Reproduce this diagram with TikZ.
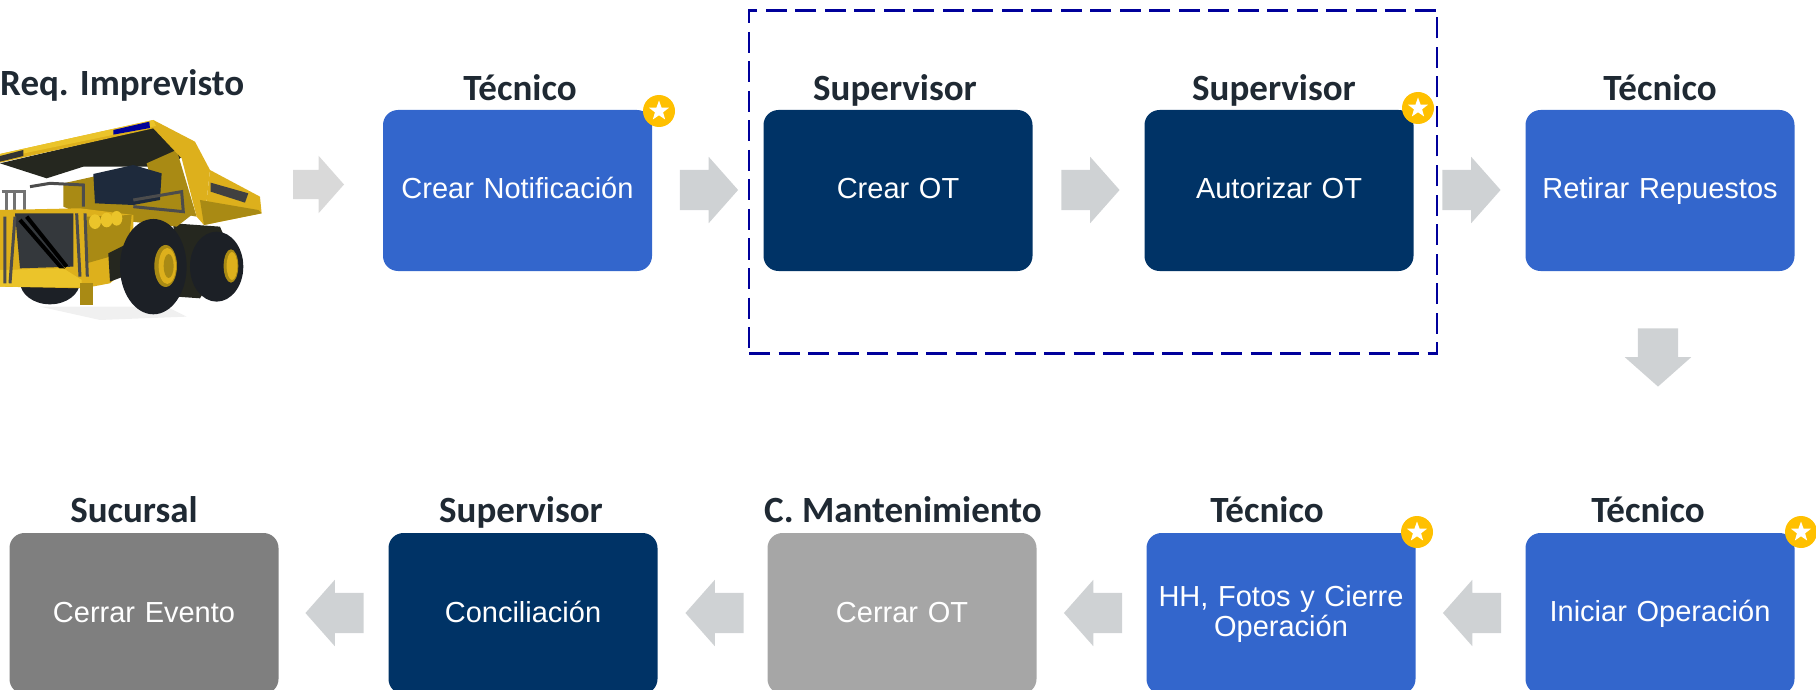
\documentclass[tikz,border=0pt]{standalone}
\usepackage{fontspec}
\setmainfont{Liberation Sans}
\newfontfamily\headfont{Carlito}[BoldFont={Carlito Bold}]
\usetikzlibrary{shapes.geometric,shapes.arrows}
\definecolor{bluebox}{HTML}{3366CC}
\definecolor{navybox}{HTML}{003366}
\definecolor{lightgrey}{HTML}{A6A6A6}
\definecolor{darkgrey}{HTML}{7F7F7F}
\definecolor{arrowgrey}{HTML}{CFD2D4}
\definecolor{headink}{HTML}{1F2933}
\definecolor{dashblue}{HTML}{00009B}
\definecolor{starbg}{HTML}{FFC000}
\definecolor{tyellow}{HTML}{DDB01C}
\definecolor{tyellowd}{HTML}{A98A14}
\definecolor{tyellowl}{HTML}{EBC42A}
\definecolor{tblack}{HTML}{1C2026}
\definecolor{tdark}{HTML}{25271F}
\definecolor{tcab}{HTML}{1E2A3C}
\definecolor{tgrille}{HTML}{34383C}
\tikzset{
  x=1pt,y=-1pt,
  procbox/.style={rounded corners=15pt,minimum width=269pt,minimum height=161pt,inner sep=4pt,text=white,align=center,
    font=\fontsize{29}{30}\selectfont,text width=261pt,
    execute at begin node={\rule{0pt}{22pt}},execute at end node={\rule[-5pt]{0pt}{5pt}}},
  head/.style={font=\headfont\bfseries\fontsize{37}{40}\selectfont,text=headink,inner sep=0pt,anchor=base},
  barrow/.style={single arrow,fill=arrowgrey,draw=none,inner sep=20pt,minimum height=58pt,
    single arrow head extend=13pt,single arrow tip angle=97,outer sep=0pt},
  smallarrow/.style={barrow,fill=black!15,inner sep=14.5pt,single arrow head extend=14pt,minimum height=51pt},
  badge/.style={circle,fill=starbg,minimum size=32pt,inner sep=0pt},
  whitestar/.style={star,star points=5,star point ratio=2.45,fill=white,minimum size=21pt,inner sep=0pt},
  frame/.style={draw=dashblue,line width=2.6pt,dash pattern=on 21pt off 8.5pt},
}
\begin{document}
\begin{tikzpicture}
\useasboundingbox (0,0) rectangle (1816,690);
\clip (0,0) rectangle (1816,690);
% truck
\begin{scope}[x=0.3333pt,y=-0.3333pt,shift={(0pt,-50pt)}]
  \fill[black!6] (120,770) -- (500,770) -- (560,800) -- (300,810) -- cycle;
  % rear wheels
  \fill[tblack] (150,695) ellipse [x radius=90,y radius=68];
  \fill[tdark] (520,520) -- (660,530) -- (690,600) -- (600,745) -- (530,740) -- cycle;
  \fill[tblack] (650,650) ellipse [x radius=80,y radius=105];
  \fill[tyellowd] (693,648) ellipse [x radius=22,y radius=50];
  \fill[tyellow] (696,648) ellipse [x radius=16,y radius=42];
  % dump body: underside canopy first
  \fill[tdark] (0,340) -- (460,232) -- (555,310) -- (520,345) -- (470,350) -- (250,350) -- (140,385) -- cycle;
  \fill[tyellowd] (440,340) -- (530,300) -- (590,500) -- (480,480) -- cycle;
  \fill[tyellow] (0,312) -- (460,210) -- (585,275) -- (630,360) -- (612,525) -- (590,500) -- (545,325) -- (460,235) -- (0,338) -- cycle;
  \fill[tyellowl] (0,312) -- (460,210) -- (468,228) -- (0,325) -- cycle;
  \fill[tyellow] (630,360) -- (780,440) -- (785,490) -- (612,525) -- cycle;
  \fill[tyellowd] (600,450) -- (775,480) -- (785,490) -- (612,525) -- cycle;
  \fill[black!75] (632,398) -- (745,430) -- (735,458) -- (632,425) -- cycle;
  \fill[blue!60!black] (340,240) -- (448,215) -- (450,234) -- (340,254) -- cycle;
  \fill[black!80] (0,318) -- (70,300) -- (70,318) -- (0,335) -- cycle;
  % chassis / cab
  \fill[tyellowd] (190,400) -- (280,380) -- (500,400) -- (575,495) -- (530,530) -- (260,500) -- (190,470) -- cycle;
  \fill[tcab] (280,372) -- (400,345) -- (485,370) -- (480,450) -- (400,465) -- (285,460) -- cycle;
  \draw[black!70,line width=3pt] (90,410) -- (150,400) -- (250,405) -- (250,470) (400,450) -- (545,425) -- (550,485) -- (400,470);
  \draw[black!55,line width=3pt] (5,425) -- (75,425) -- (75,480) (20,425) -- (20,480) (45,425) -- (45,480);
  % front
  \fill[tyellow] (0,480) -- (240,475) -- (400,495) -- (400,640) -- (330,700) -- (250,715) -- (0,710) -- cycle;
  \fill[tgrille] (45,490) -- (220,490) -- (220,650) -- (60,655) -- cycle;
  \draw[black,line width=4pt] (60,510) -- (190,660);
  \draw[black,line width=4pt] (80,500) -- (200,650);
  \fill[tyellowl] (0,660) -- (190,655) -- (245,690) -- (245,712) -- (0,710) -- cycle;
  \fill[tyellowd] (260,500) -- (395,495) -- (385,590) -- (330,620) -- (260,640) -- cycle;
  \fill[tyellowl] (285,515) ellipse [x radius=18,y radius=22];
  \fill[tyellowl] (320,510) ellipse [x radius=18,y radius=22];
  \fill[tyellowl] (350,505) ellipse [x radius=17,y radius=22];
  \draw[black!70,line width=3pt] (230,490) -- (240,680) (255,490) -- (262,680);
  \draw[black!70,line width=3pt] (15,500) -- (15,700) (45,500) -- (30,700);
  \fill[tdark] (325,610) -- (375,585) -- (370,680) -- (330,695) -- cycle;
  \fill[tyellowd] (240,700) rectangle (280,765);
  % front wheel
  \fill[tblack] (460,650) ellipse [x radius=100,y radius=143];
  \fill[tyellowd] (497,648) ellipse [x radius=34,y radius=63];
  \fill[tyellow] (502,648) ellipse [x radius=26,y radius=54];
  \fill[tyellowd] (506,648) ellipse [x radius=15,y radius=36];
\end{scope}
% process boxes
\node[procbox,fill=bluebox] (notif) at (517.5,190.5) {Crear Notificación};
\node[procbox,fill=navybox] (crearot) at (898,190.5) {Crear OT};
\node[procbox,fill=navybox] (autot) at (1279,190.5) {Autorizar OT};
\node[procbox,fill=bluebox] (retirar) at (1660,190.5) {Retirar Repuestos};
\node[procbox,fill=bluebox] (iniciar) at (1660,613.5) {Iniciar Operación};
\node[procbox,fill=bluebox] (hh) at (1281,613.5) {HH, Fotos y Cierre\\Operación};
\node[procbox,fill=lightgrey] (cerrarot) at (902,613.5) {Cerrar OT};
\node[procbox,fill=navybox] (concil) at (523,613.5) {Conciliación};
\node[procbox,fill=darkgrey] (evento) at (144,613.5) {Cerrar Evento};
% headings
\node[head,anchor=base west] (h0) at (0,96) {Req. Imprevisto};
\node[head] (h1) at (520,101) {Técnico};
\node[head] (h2) at (895,101) {Supervisor};
\node[head] (h3) at (1274,101) {Supervisor};
\node[head] (h4) at (1660,101) {Técnico};
\node[head] (h5) at (1648,522) {Técnico};
\node[head] (h6) at (1267,522) {Técnico};
\node[head] (h7) at (903,522) {C. Mantenimiento};
\node[head] (h8) at (521,522) {Supervisor};
\node[head] (h9) at (134,522) {Sucursal};
% dashed frame
\node[frame,minimum width=688pt,minimum height=343pt,inner sep=0pt] (grupo) at (1093,182) {};
% block arrows
\node[smallarrow] (a0) at (312,184.5) {};
\node[barrow] (a1) at (700,190) {};
\node[barrow] (a2) at (1081.5,190) {};
\node[barrow] (a3) at (1462.5,190) {};
\node[barrow,shape border rotate=270] (a4) at (1658,348.5) {};
\node[barrow,shape border rotate=180] (a5) at (1481,613) {};
\node[barrow,shape border rotate=180] (a6) at (1102,613) {};
\node[barrow,shape border rotate=180] (a7) at (723.5,613) {};
\node[barrow,shape border rotate=180] (a8) at (343.5,613) {};
% star badges
\foreach \n/\px/\py in {s1/659/111,s2/1418/108,s3/1417/532,s4/1801/532}{
  \node[badge] (\n) at (\px,\py) {};
  \node[whitestar] (\n w) at (\n) {};
}
\end{tikzpicture}
\end{document}
